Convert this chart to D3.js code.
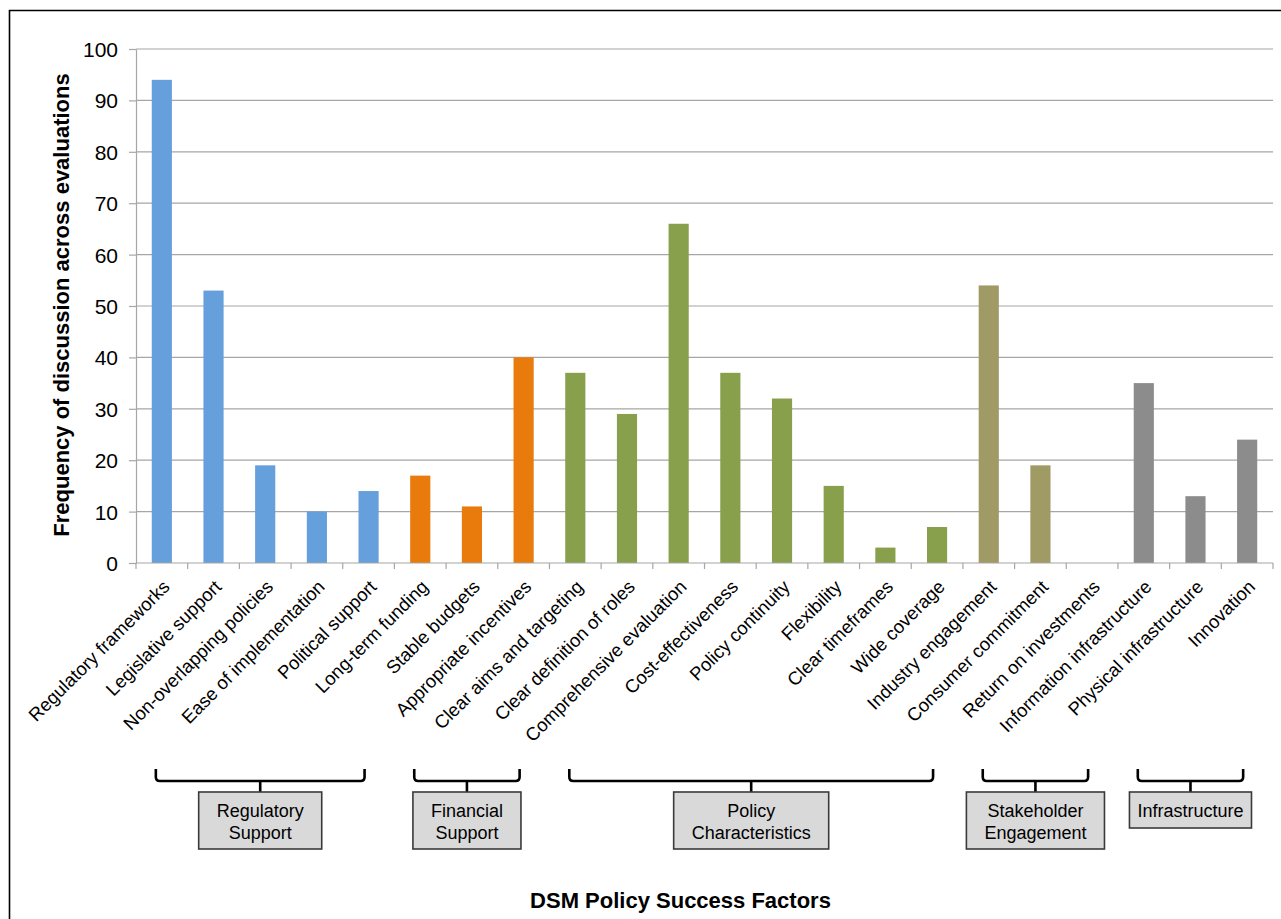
<script src="https://d3js.org/d3.v7.min.js"></script>
<style>
  body { margin: 0; background: #fff; }
  svg text { font-family: "Liberation Sans", Arial, sans-serif; fill: #000; }
  .grid line { stroke: #a6a6a6; stroke-width: 1.2px; }
  .axis path, .axis line { stroke: #a6a6a6; stroke-width: 1.2px; }
</style>
<body>
<div id="chart"></div>
<script>
  // chart values
  var categories = ["Regulatory frameworks", "Legislative support", "Non-overlapping policies",
    "Ease of implementation", "Political support", "Long-term funding", "Stable budgets",
    "Appropriate incentives", "Clear aims and targeting", "Clear definition of roles",
    "Comprehensive evaluation", "Cost-effectiveness", "Policy continuity", "Flexibility",
    "Clear timeframes", "Wide coverage", "Industry engagement", "Consumer commitment",
    "Return on investments", "Information infrastructure", "Physical infrastructure", "Innovation"];
  var counts = [94, 53, 19, 10, 14, 17, 11, 40, 37, 29, 66, 37, 32, 15, 3, 7, 54, 19, 0, 35, 13, 24];
  var groupOf = [0, 0, 0, 0, 0, 1, 1, 1, 2, 2, 2, 2, 2, 2, 2, 2, 3, 3, 3, 4, 4, 4];
  var groupLabels = [["Regulatory", "Support"], ["Financial", "Support"], ["Policy", "Characteristics"],
    ["Stakeholder", "Engagement"], ["Infrastructure"]];
  var groupColors = ["#659fdc", "#e87b0b", "#88a04c", "#a09a64", "#8c8c8c"];
  var yTicks = [0, 10, 20, 30, 40, 50, 60, 70, 80, 90, 100];

  var width = 1281, height = 919;
  var margin = {left: 136, right: 8, top: 49, bottom: 356};

  var svg = d3.select("#chart").append("svg")
      .attr("width", width)
      .attr("height", height);

  // frame (left and top edges only are visible)
  svg.append("path")
      .attr("d", "M9.5," + height + "V10.5H" + width)
      .attr("fill", "none")
      .attr("stroke", "#000")
      .attr("stroke-width", 1.6);

  var x = d3.scaleBand()
      .domain(categories)
      .range([margin.left, width - margin.right])
      .padding(0);

  var y = d3.scaleLinear()
      .domain([0, 100])
      .range([height - margin.bottom, margin.top]);

  var y0 = y(0);

  // gridlines
  svg.append("g").attr("class", "grid")
    .selectAll("line")
    .data(yTicks.slice(1))
    .enter().append("line")
      .attr("x1", margin.left).attr("x2", width - margin.right)
      .attr("y1", function(d) { return y(d); })
      .attr("y2", function(d) { return y(d); });

  // y axis
  var yAxis = svg.append("g")
      .attr("class", "axis")
      .attr("transform", "translate(" + margin.left + ",0)")
      .call(d3.axisLeft(y).tickValues(yTicks).tickSize(7).tickPadding(11).tickSizeOuter(0));
  yAxis.selectAll("text")
      .style("font-size", "21px")
      .attr("dy", "0.36em");

  // bars
  var barW = x.bandwidth() * 0.39;
  svg.append("g")
    .selectAll("rect")
    .data(categories)
    .enter().append("rect")
      .attr("x", function(d) { return x(d) + (x.bandwidth() - barW) / 2; })
      .attr("y", function(d, i) { return y(counts[i]); })
      .attr("width", barW)
      .attr("height", function(d, i) { return y0 - y(counts[i]); })
      .attr("fill", function(d, i) { return groupColors[groupOf[i]]; });

  // x axis line + ticks at category boundaries
  var xa = svg.append("g").attr("class", "axis");
  xa.append("line")
      .attr("x1", margin.left).attr("x2", width - margin.right)
      .attr("y1", y0).attr("y2", y0);
  var bounds = categories.map(function(d) { return x(d); }).concat([x.range()[1]]);
  xa.selectAll(".tk")
    .data(bounds)
    .enter().append("line")
      .attr("class", "tk")
      .attr("x1", function(d) { return d; }).attr("x2", function(d) { return d; })
      .attr("y1", y0).attr("y2", y0 + 6);

  // category labels
  svg.append("g")
    .selectAll("text")
    .data(categories)
    .enter().append("text")
      .attr("transform", function(d) {
        return "translate(" + (x(d) + x.bandwidth() / 2 + 9) + "," + (y0 + 25) + ") rotate(-45)";
      })
      .attr("text-anchor", "end")
      .style("font-size", "18.5px")
      .text(function(d) { return d; });

  // y axis title
  svg.append("text")
      .attr("transform", "translate(69," + ((margin.top + y0) / 2 - 1) + ") rotate(-90)")
      .attr("text-anchor", "middle")
      .style("font-size", "22px")
      .style("font-weight", "bold")
      .text("Frequency of discussion across evaluations");

  // group brackets and boxes
  var bTop = y0 + 206, bBot = y0 + 218, boxTop = y0 + 229;
  var groups = groupLabels.map(function(lbl, g) {
    var idx = groupOf.map(function(v, i) { return v === g ? i : -1; }).filter(function(i) { return i >= 0; });
    var a = x(categories[idx[0]]) + x.bandwidth() / 2 - 6;
    var b = x(categories[idx[idx.length - 1]]) + x.bandwidth() / 2 - 4;
    return {lines: lbl, a: a, b: b, mid: (a + b) / 2};
  });

  var gb = svg.append("g").selectAll("g")
    .data(groups)
    .enter().append("g");

  gb.append("path")
      .attr("d", function(d) {
        return "M" + d.a + "," + bTop + "V" + (bBot - 4) +
          "Q" + d.a + "," + bBot + " " + (d.a + 4) + "," + bBot +
          "H" + (d.b - 4) +
          "Q" + d.b + "," + bBot + " " + d.b + "," + (bBot - 4) + "V" + bTop +
          "M" + d.mid + "," + bBot + "V" + boxTop;
      })
      .attr("fill", "none")
      .attr("stroke", "#000")
      .attr("stroke-width", 2.6);

  var boxes = gb.append("rect")
      .attr("fill", "#d9d9d9")
      .attr("stroke", "#3a3a3a")
      .attr("stroke-width", 1.6);

  var lbls = gb.append("text")
      .attr("text-anchor", "middle")
      .style("font-size", "18px");
  lbls.selectAll("tspan")
    .data(function(d) { return d.lines.map(function(t) { return {t: t, mid: d.mid}; }); })
    .enter().append("tspan")
      .attr("x", function(d) { return d.mid; })
      .attr("y", function(d, i) { return boxTop + 25 + i * 22; })
      .text(function(d) { return d.t; });

  boxes.each(function(d, i) {
    var w = 0;
    d3.select(lbls.nodes()[i]).selectAll("tspan").each(function() {
      w = Math.max(w, this.getComputedTextLength());
    });
    var bw = d.lines.length > 1 ? w + 36 : w + 16;
    d3.select(this)
      .attr("x", d.mid - bw / 2)
      .attr("y", boxTop)
      .attr("width", bw)
      .attr("height", d.lines.length > 1 ? 57 : 36);
  });

  // x axis title
  svg.append("text")
      .attr("x", (margin.left + width - margin.right) / 2 - 24)
      .attr("y", 908)
      .attr("text-anchor", "middle")
      .style("font-size", "22px")
      .style("font-weight", "bold")
      .text("DSM Policy Success Factors");
</script>
</body>
